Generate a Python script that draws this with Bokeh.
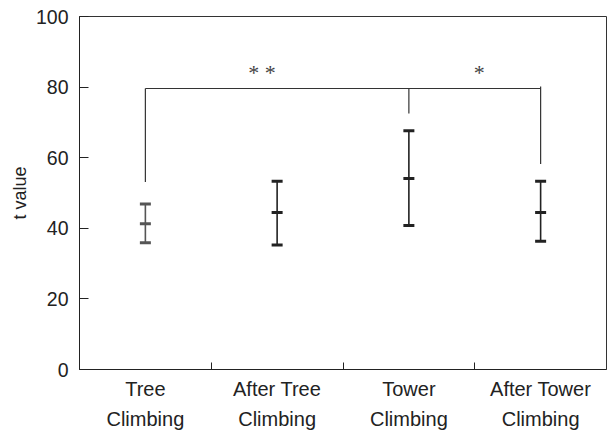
from bokeh.plotting import figure
from bokeh.models import FixedTicker, Range1d, ColumnDataSource
from bokeh.embed import file_html
from bokeh.resources import INLINE
from bokeh.core.properties import value

# ---- data ----
categories = ["Tree\nClimbing", "After Tree\nClimbing", "Tower\nClimbing", "After Tower\nClimbing"]
x_pos = [1, 2, 3, 4]
means = [41.3, 44.5, 54.1, 44.5]
upper = [46.9, 53.3, 67.6, 53.3]
lower = [35.9, 35.3, 40.8, 36.3]
bar_colors = ["#555555", "#222222", "#222222", "#222222"]
y_ticks = [0, 20, 40, 60, 80, 100]

bracket_y = 79.6
bracket_x_from = 1
bracket_x_to = 4
drop_x = [1, 3, 4]
drop_top = [79.6, 79.6, 80.2]
drop_bottom = [53.1, 72.5, 58.2]
star_text = ["* *", "*"]
star_x = [1.886, 3.535]
star_y = [84.1, 84.1]

FONT = "Liberation Sans"

p = figure(width=608, height=434,
           x_range=Range1d(0.5, 4.5), y_range=Range1d(0, 100),
           output_backend="svg", toolbar_location=None,
           min_border_left=79, min_border_right=2,
           min_border_top=16, min_border_bottom=65)

p.xgrid.visible = False
p.ygrid.visible = False
p.outline_line_color = "#333333"
p.outline_line_width = 1
p.background_fill_color = "white"
p.border_fill_color = "white"

# x axis
p.xaxis.ticker = FixedTicker(ticks=x_pos, minor_ticks=[1.5, 2.5, 3.5])
p.xaxis.major_label_overrides = {x: c for x, c in zip(x_pos, categories)}
p.xaxis.major_tick_line_color = None
p.xaxis.minor_tick_in = 7
p.xaxis.minor_tick_out = 0
p.xaxis.minor_tick_line_color = "#222222"
p.xaxis.axis_line_color = "#222222"
p.xaxis.major_label_text_font = FONT
p.xaxis.major_label_text_font_size = "20px"
p.xaxis.major_label_text_color = "#222222"
p.xaxis.major_label_text_line_height = 1.4
p.xaxis.major_label_standoff = 2

# y axis
p.yaxis.ticker = FixedTicker(ticks=y_ticks)
p.yaxis.major_tick_in = 9
p.yaxis.major_tick_out = 0
p.yaxis.major_tick_line_color = "#222222"
p.yaxis.minor_tick_line_color = None
p.yaxis.axis_line_color = "#222222"
p.yaxis.major_label_text_font = FONT
p.yaxis.major_label_text_font_size = "19.5px"
p.yaxis.major_label_text_color = "#222222"
p.yaxis.major_label_standoff = 11
p.yaxis.axis_label = "t value"
p.yaxis.axis_label_text_font = FONT
p.yaxis.axis_label_text_font_style = "normal"
p.yaxis.axis_label_text_font_size = "18px"
p.yaxis.axis_label_text_color = "#222222"
p.yaxis.axis_label_standoff = 3

# error bars
src = ColumnDataSource(dict(x=x_pos, m=means, u=upper, l=lower, c=bar_colors))
p.segment(x0="x", y0="l", x1="x", y1="u", source=src, line_color="c", line_width=1.6)
for col in ["u", "m", "l"]:
    p.scatter(x="x", y=col, source=src, marker="dash", size=11,
              line_color="c", line_width=3)

# significance bracket
p.segment(x0=[bracket_x_from], y0=[bracket_y], x1=[bracket_x_to], y1=[bracket_y],
          line_color="#333333", line_width=1.2)
p.segment(x0=drop_x, y0=drop_top, x1=drop_x, y1=drop_bottom,
          line_color="#333333", line_width=1.2)
p.text(x=star_x, y=star_y, text=star_text, text_align="center", text_baseline="middle",
       text_font=value("Liberation Serif"), text_font_size="22px", text_color="#444444")

open("out.html", "w").write(file_html(p, INLINE))
